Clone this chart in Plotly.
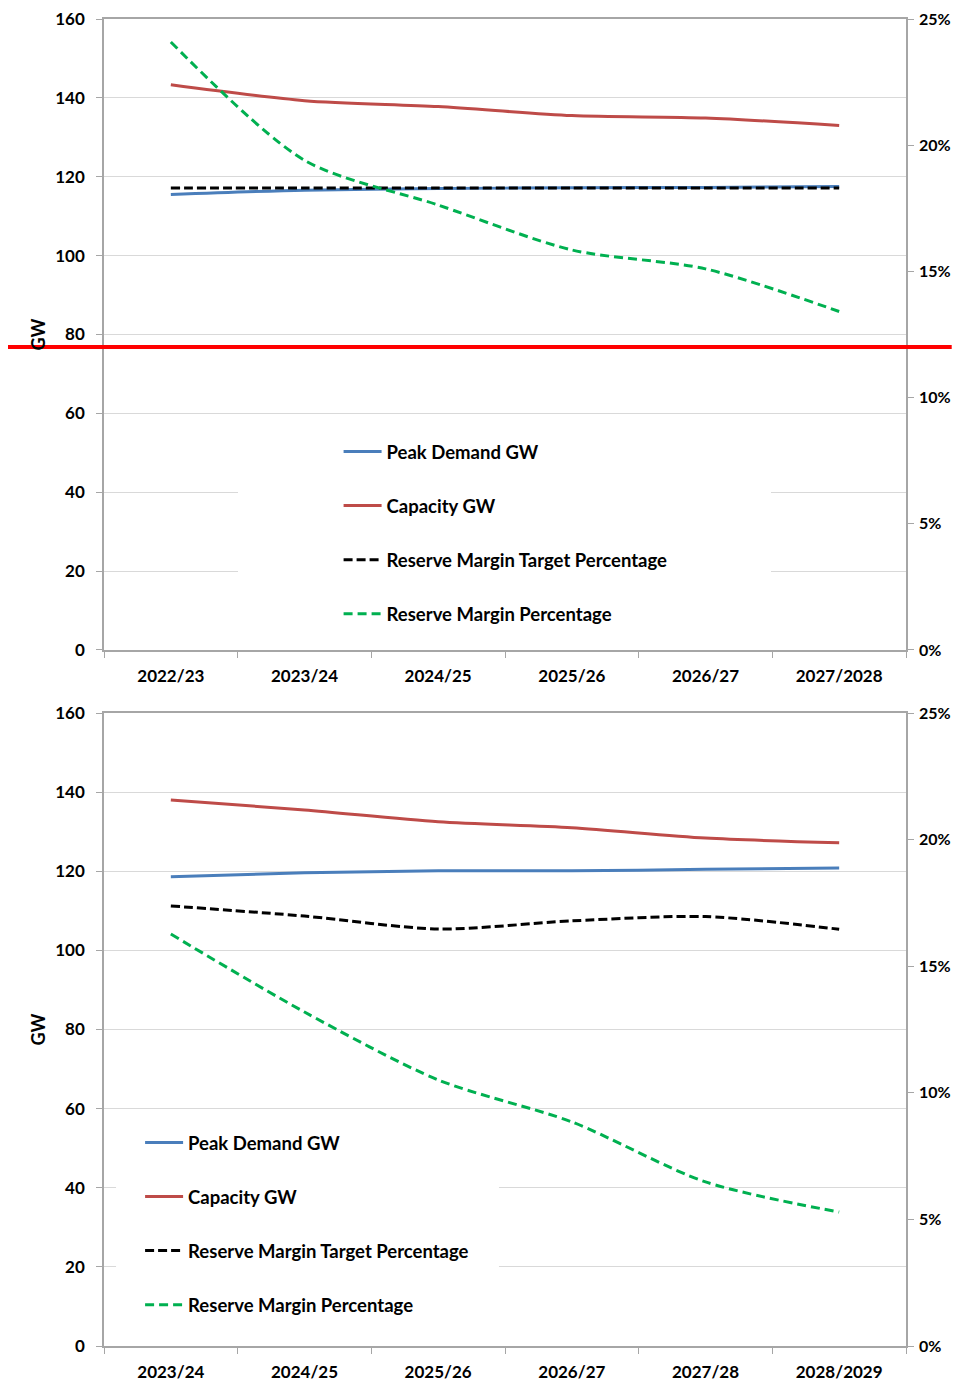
import plotly.graph_objects as go
from plotly.subplots import make_subplots

# ---------------- data ----------------
top_categories = ["2022/23", "2023/24", "2024/25", "2025/26", "2026/27", "2027/2028"]
top_peak_demand = [115.5, 116.6, 117.0, 117.2, 117.3, 117.5]
top_capacity = [143.3, 139.3, 137.8, 135.5, 134.9, 133.0]
top_target_pct = [0.183, 0.183, 0.183, 0.183, 0.183, 0.183]
top_margin_pct = [0.2409, 0.1940, 0.1763, 0.1585, 0.1510, 0.1341]

bottom_categories = ["2023/24", "2024/25", "2025/26", "2026/27", "2027/28", "2028/2029"]
bottom_peak_demand = [118.6, 119.6, 120.1, 120.1, 120.5, 120.8]
bottom_capacity = [138.0, 135.5, 132.5, 131.0, 128.4, 127.2]
bottom_target_pct = [0.1738, 0.1698, 0.1647, 0.1679, 0.1696, 0.1646]
bottom_margin_pct = [0.1627, 0.1319, 0.1051, 0.0885, 0.0648, 0.0529]

series_names = ["Peak Demand GW", "Capacity GW",
                "Reserve Margin Target Percentage", "Reserve Margin Percentage"]
gw_ticks = [0, 20, 40, 60, 80, 100, 120, 140, 160]
pct_ticks = [0, 0.05, 0.10, 0.15, 0.20, 0.25]

# ---------------- style ----------------
BLUE = "#4A7EBB"
RED = "#BE4B48"
GREEN = "#00B050"
BLACK = "#000000"
FONT = "Lato"
GRID = "#D9D9D9"
AXLINE = "#A6A6A6"
SMOOTH = 0.8

fig = make_subplots(rows=2, cols=1, specs=[[{"secondary_y": True}], [{"secondary_y": True}]])


def add_panel(row, cats, peak, cap, target, margin, legend):
    fig.add_trace(go.Scatter(x=cats, y=peak, name=series_names[0], mode="lines",
                             line=dict(color=BLUE, width=3, shape="spline", smoothing=SMOOTH),
                             legend=legend, legendgroup=legend + "a"),
                  row=row, col=1, secondary_y=False)
    fig.add_trace(go.Scatter(x=cats, y=cap, name=series_names[1], mode="lines",
                             line=dict(color=RED, width=3, shape="spline", smoothing=SMOOTH),
                             legend=legend, legendgroup=legend + "b"),
                  row=row, col=1, secondary_y=False)
    fig.add_trace(go.Scatter(x=cats, y=target, name=series_names[2], mode="lines",
                             line=dict(color=BLACK, width=3, dash="9px,4px", shape="spline", smoothing=SMOOTH),
                             legend=legend, legendgroup=legend + "c"),
                  row=row, col=1, secondary_y=True)
    fig.add_trace(go.Scatter(x=cats, y=margin, name=series_names[3], mode="lines",
                             line=dict(color=GREEN, width=3, dash="9px,5px", shape="spline", smoothing=SMOOTH),
                             legend=legend, legendgroup=legend + "d"),
                  row=row, col=1, secondary_y=True)


add_panel(1, top_categories, top_peak_demand, top_capacity, top_target_pct, top_margin_pct, "legend")
add_panel(2, bottom_categories, bottom_peak_demand, bottom_capacity, bottom_target_pct, bottom_margin_pct, "legend2")

tickfont = dict(family=FONT, size=17, color="#000000", weight="bold")
rtickfont = dict(family=FONT, size=16, color="#000000", weight="bold")
legfont = dict(family=FONT, size=18.5, color="#000000", weight="bold")

xcommon = dict(type="category", range=[-0.5, 5.5], tickson="boundaries", ticks="outside",
               ticklen=6, tickcolor=AXLINE, showline=True, linecolor=AXLINE, linewidth=1.5,
               mirror=True, showgrid=False, tickfont=tickfont, ticklabelstandoff=10,
               zeroline=False, automargin=False)
yleft = dict(range=[0, 160], tickvals=gw_ticks, ticks="outside", ticklen=6, tickcolor=AXLINE,
             showline=True, linecolor=AXLINE, linewidth=1.5, showgrid=True, gridcolor=GRID,
             gridwidth=1, zeroline=False, tickfont=tickfont, ticklabelstandoff=8, automargin=False,
             ticklabeloverflow="allow",
             title=dict(text="GW", font=dict(family=FONT, size=18, color="#000000", weight="bold"),
                        standoff=5))
yright = dict(range=[0, 0.25], tickvals=pct_ticks, tickformat=".0%", ticks="outside", ticklen=6,
              tickcolor=AXLINE, showline=True, linecolor=AXLINE, linewidth=1.5, showgrid=False,
              zeroline=False, tickfont=rtickfont, ticklabelstandoff=2, automargin=False,
              ticklabeloverflow="allow")

# the page body adds an 8px offset, so the figure is sized to fit inside the window
fig.update_layout(
    width=944, height=1375,
    margin=dict(l=96, r=46, t=11, b=37, autoexpand=False),
    paper_bgcolor="white", plot_bgcolor="white",
    xaxis=dict(xcommon, domain=[0, 1]),
    xaxis2=dict(xcommon, domain=[0, 1]),
    yaxis=dict(yleft, domain=[0.5245, 1.0]),
    yaxis2=dict(yright),
    yaxis3=dict(yleft, domain=[0.0, 0.4770]),
    yaxis4=dict(yright),
    legend=dict(x=0.2925, y=0.6880, xanchor="left", yanchor="top", bgcolor="rgba(0,0,0,0)",
                traceorder="grouped", tracegroupgap=27, itemwidth=38, font=legfont),
    legend2=dict(x=0.045, y=0.1673, xanchor="left", yanchor="top", bgcolor="rgba(0,0,0,0)",
                 traceorder="grouped", tracegroupgap=27, itemwidth=38, font=legfont),
    shapes=[
        # white legend backgrounds hiding gridlines (Excel style)
        dict(type="rect", xref="x", yref="y", x0=0.5025, x1=4.49, y0=2.5, y1=57.0,
             fillcolor="white", line=dict(width=0), layer="between"),
        dict(type="rect", xref="x2", yref="y3", x0=-0.41, x1=2.455, y0=2.5, y1=57.6,
             fillcolor="white", line=dict(width=0), layer="between"),
        # red horizontal marker line
        dict(type="line", xref="paper", yref="y", x0=-0.1197, x1=1.057, y0=76.8, y1=76.8,
             line=dict(color="#FF0000", width=4), layer="above"),
    ],
)

fig.write_html("out.html")
